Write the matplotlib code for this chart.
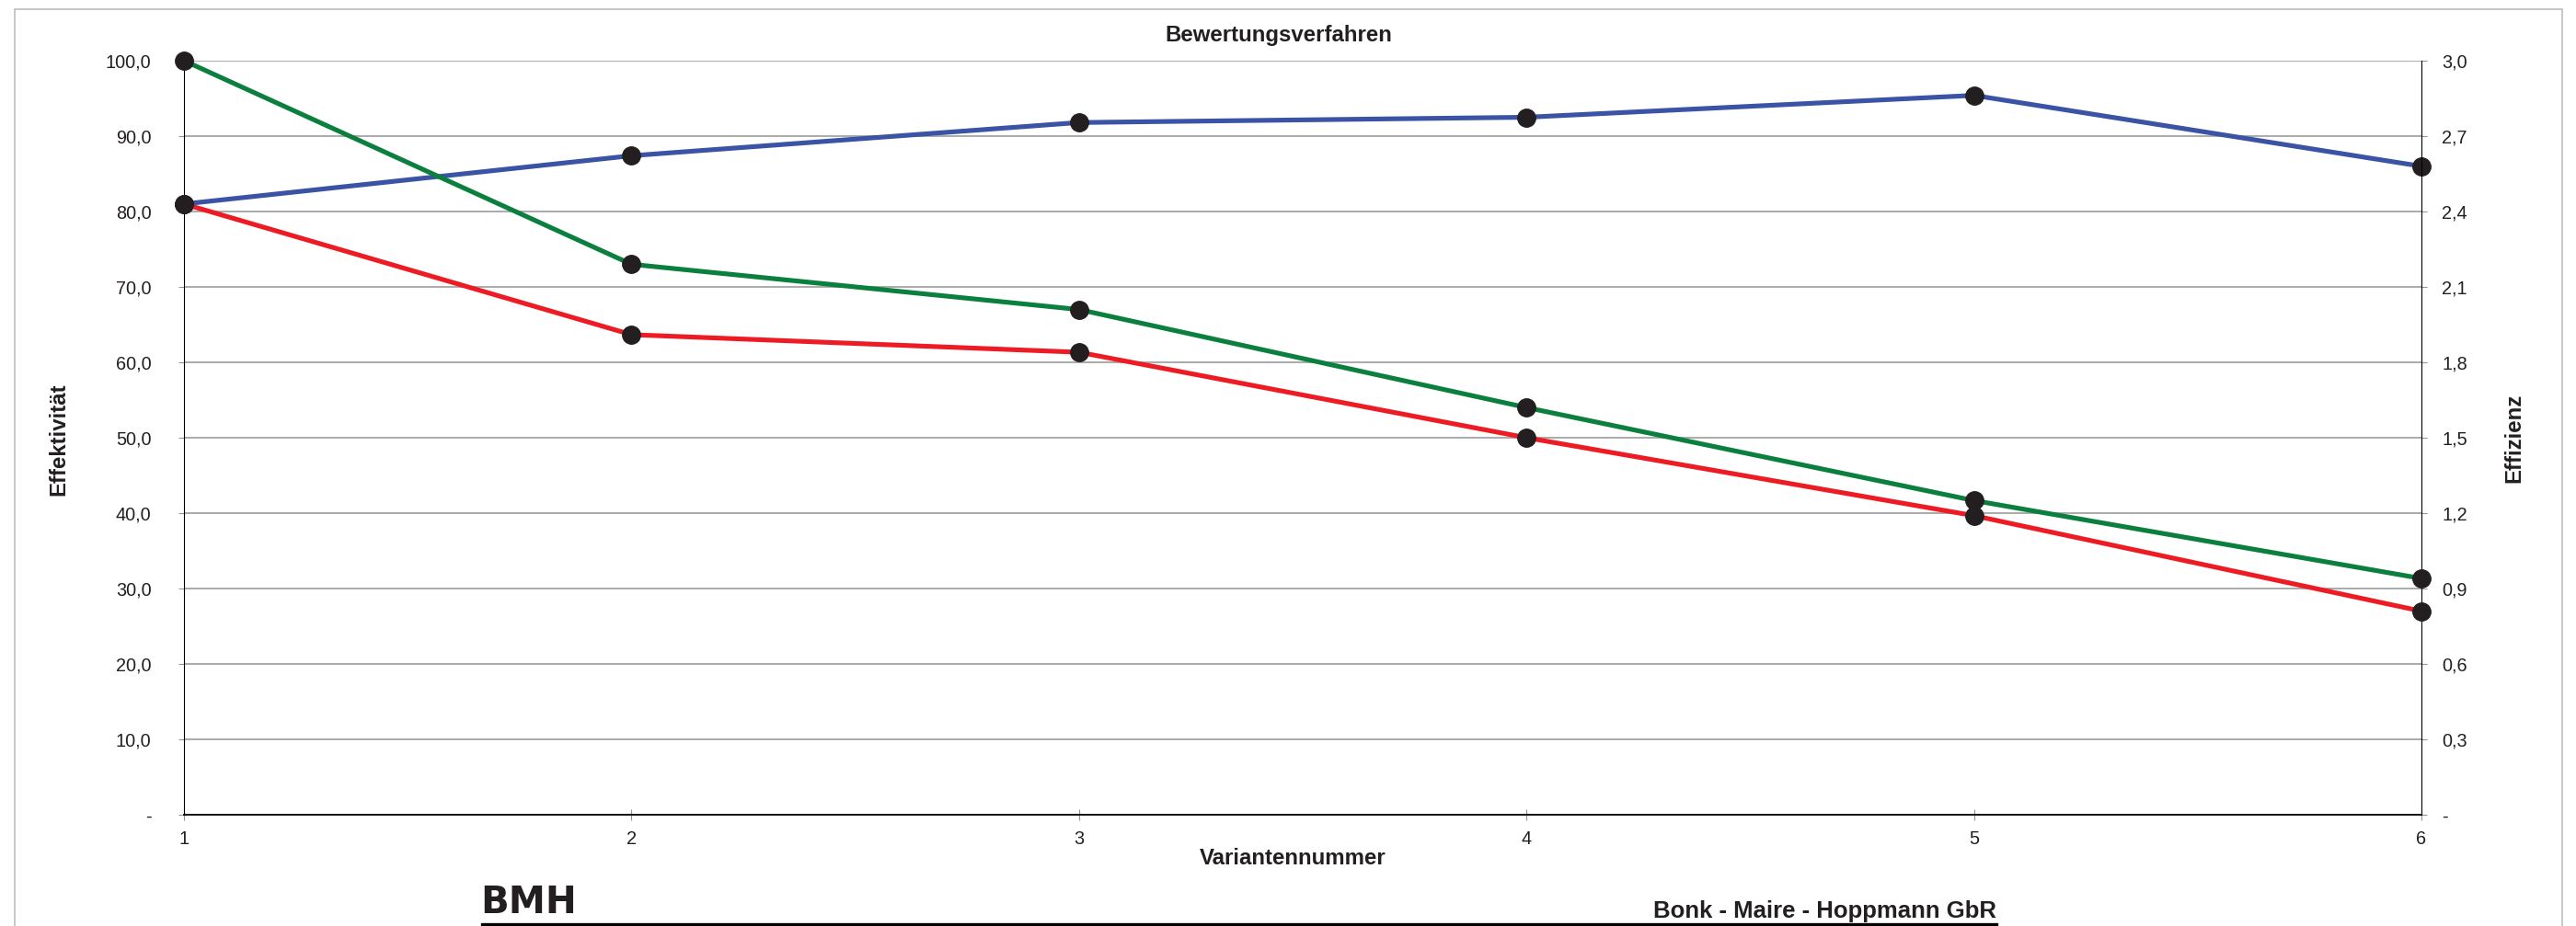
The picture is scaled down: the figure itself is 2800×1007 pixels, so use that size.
import matplotlib
matplotlib.use("Agg")
import matplotlib.pyplot as plt
from matplotlib.lines import Line2D
from matplotlib.patches import Rectangle

plt.rcParams['font.family'] = ['Liberation Sans', 'DejaVu Sans']

# ---------------------------------------------------------------------------
# Daten
# ---------------------------------------------------------------------------
varianten = [1, 2, 3, 4, 5, 6]
effektivitaet_blau = [81.0, 87.4, 91.8, 92.5, 95.4, 86.0]      # linke Achse
effizienz_gruen = [3.00, 2.19, 2.01, 1.62, 1.25, 0.94]          # rechte Achse
effizienz_rot = [2.43, 1.91, 1.84, 1.50, 1.19, 0.81]            # rechte Achse

yticks_links = [0, 10, 20, 30, 40, 50, 60, 70, 80, 90, 100]
ylabels_links = ['-', '10,0', '20,0', '30,0', '40,0', '50,0', '60,0',
                 '70,0', '80,0', '90,0', '100,0']
yticks_rechts = [0, 0.3, 0.6, 0.9, 1.2, 1.5, 1.8, 2.1, 2.4, 2.7, 3.0]
ylabels_rechts = ['-', '0,3', '0,6', '0,9', '1,2', '1,5', '1,8', '2,1',
                  '2,4', '2,7', '3,0']

titel = 'Bewertungsverfahren'
xlabel = 'Variantennummer'
ylabel_links = 'Effektivität'
ylabel_rechts = 'Effizienz'
firma = 'Bonk - Maire - Hoppmann GbR'
logo = 'BMH'

# Farben
blau = '#3A53A4'
gruen = '#0B7F3D'
rot = '#ED1C24'
marker_farbe = '#231F20'
text_farbe = '#231F20'
gitter = '#939393'

W, H = 2800, 1007
fig = plt.figure(figsize=(W / 100, H / 100), dpi=100)

def fx(px):
    return px / W

def fy(py):
    return 1 - py / H

# Rahmen um das Diagramm
fig.add_artist(Rectangle((fx(16), -0.1), fx(2785) - fx(16), fy(9.5) + 0.1,
                         transform=fig.transFigure, fill=False,
                         edgecolor='#BDBDBD', linewidth=1.2))

ax = fig.add_axes([fx(200), fy(886), fx(2632) - fx(200), fy(66) - fy(886)])
ax2 = ax.twinx()

ax.set_xlim(1, 6)
ax.set_ylim(0, 100)
ax2.set_ylim(0, 3.0)

# Gitternetz
for t in yticks_links[1:]:
    ax.axhline(t, color=gitter, linewidth=1.1, zorder=0)

lw = 3.7
ms = 14
ax.plot(varianten, effektivitaet_blau, color=blau, linewidth=lw, zorder=2)
ax.plot(varianten, effektivitaet_blau, linestyle='none', marker='o',
        markersize=ms, color=marker_farbe, zorder=3, clip_on=False)
ax2.plot(varianten, effizienz_gruen, color=gruen, linewidth=lw, zorder=2,
         clip_on=False)
ax2.plot(varianten, effizienz_rot, color=rot, linewidth=lw, zorder=2,
         clip_on=False)
ax2.plot(varianten, effizienz_gruen, linestyle='none', marker='o',
         markersize=ms, color=marker_farbe, zorder=3, clip_on=False)
ax2.plot(varianten, effizienz_rot, linestyle='none', marker='o',
         markersize=ms, color=marker_farbe, zorder=3, clip_on=False)

# Achsen
ax.set_xticks(varianten)
ax.set_xticklabels([str(v) for v in varianten])
ax.set_yticks(yticks_links)
ax.set_yticklabels(ylabels_links)
ax2.set_yticks(yticks_rechts)
ax2.set_yticklabels(ylabels_rechts)

ax.tick_params(axis='x', direction='inout', length=8, width=0.8,
               color=gitter, labelsize=14.3, labelcolor=text_farbe, pad=8)
ax.tick_params(axis='y', direction='out', length=4.5, width=0.8,
               color=gitter, labelsize=14.3, labelcolor=text_farbe, pad=21)
ax2.tick_params(axis='y', direction='out', length=4, width=0.8,
                color=gitter, labelsize=14.3, labelcolor=text_farbe, pad=12)

for a in (ax, ax2):
    a.spines['top'].set_visible(False)
    a.patch.set_visible(False)
ax.spines['left'].set_linewidth(0.8)
ax.spines['right'].set_visible(False)
ax.spines['bottom'].set_linewidth(1.3)
ax2.spines['left'].set_visible(False)
ax2.spines['bottom'].set_visible(False)
ax2.spines['right'].set_linewidth(0.8)

# Beschriftungen
fig.text(fx(1390), fy(39), titel, ha='center', va='center',
         fontsize=17.3, fontweight='bold', color=text_farbe)
fig.text(fx(1405), fy(934), xlabel, ha='center', va='center',
         fontsize=17.3, fontweight='bold', color=text_farbe)
fig.text(fx(63.5), fy(478), ylabel_links, ha='center', va='center',
         rotation=90, fontsize=17.3, fontweight='bold', color=text_farbe)
fig.text(fx(2733), fy(476), ylabel_rechts, ha='center', va='center',
         rotation=90, fontsize=17.3, fontweight='bold', color=text_farbe)

# Fußzeile
fig.text(fx(522), fy(993), logo, ha='left', va='baseline',
         fontsize=29, fontweight='heavy', family='DejaVu Sans',
         color=text_farbe)
fig.text(fx(2170), fy(998), firma, ha='right', va='baseline',
         fontsize=18.5, fontweight='bold', color=text_farbe)
fig.add_artist(Line2D([fx(524), fx(2170)], [fy(1005), fy(1005)],
                      transform=fig.transFigure, color='black',
                      linewidth=2.4))

fig.savefig('out.png', dpi=100)
